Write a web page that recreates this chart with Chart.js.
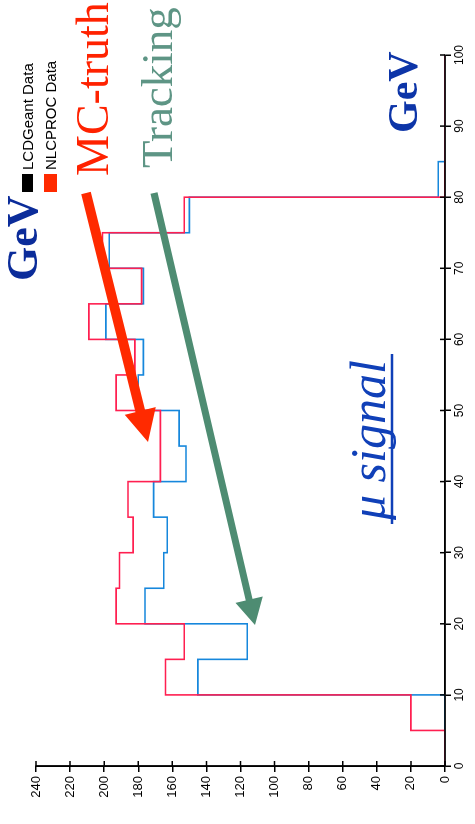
<!DOCTYPE html>
<html>
<head>
<meta charset="utf-8">
<script src="https://cdn.jsdelivr.net/npm/chart.js@4"></script>
<style>
  html, body { margin: 0; padding: 0; background: #fff; width: 475px; height: 824px; overflow: hidden; }
  /* the plot is laid out landscape and turned a quarter turn anticlockwise */
  #stage { position: absolute; left: 0; top: 0; width: 824px; height: 475px;
           transform-origin: 0 0; transform: translate(0, 824px) rotate(-90deg); }
  canvas { display: block; }
</style>
</head>
<body>
<div id="stage"><canvas id="c" width="824" height="475"></canvas></div>
<script>
// 5 GeV bins, lower edges
const binStarts = [0, 5, 10, 15, 20, 25, 30, 35, 40, 45, 50, 55, 60, 65, 70, 75, 80, 85, 90, 95];
const binEnd = 100;

// entries per bin
const lcdGeantCounts = [0, 0, 145, 116, 176, 165, 163, 171, 152, 156, 180, 177, 199, 177, 197, 150, 4, 0, 0, 0];
const nlcprocCounts  = [0, 20, 164, 153, 193, 191, 183, 186, 167, 167, 193, 182, 209, 178, 201, 153, 0, 0, 0, 0];

const seriesLabels = ['LCDGeant Data', 'NLCPROC Data'];
const energyTicks = [0, 10, 20, 30, 40, 50, 60, 70, 80, 90, 100];
const countTicks = [0, 20, 40, 60, 80, 100, 120, 140, 160, 180, 200, 220, 240];

// outline of a histogram: one point per lower bin edge, closed at the last edge
function histPoints(counts) {
  const pts = binStarts.map((x, i) => ({ x: x, y: counts[i] }));
  pts.push({ x: binEnd, y: 0 });
  return pts;
}

function arrow(ctx, x1, y1, x2, y2, shaft, headLen, headW, color) {
  const dx = x2 - x1, dy = y2 - y1, L = Math.hypot(dx, dy);
  const ux = dx / L, uy = dy / L, nx = -uy, ny = ux;
  const bx = x2 - ux * headLen, by = y2 - uy * headLen;
  ctx.save();
  ctx.fillStyle = color;
  ctx.beginPath();
  ctx.moveTo(x1 + nx * shaft / 2, y1 + ny * shaft / 2);
  ctx.lineTo(bx + nx * shaft / 2, by + ny * shaft / 2);
  ctx.lineTo(bx + nx * headW / 2, by + ny * headW / 2);
  ctx.lineTo(x2, y2);
  ctx.lineTo(bx - nx * headW / 2, by - ny * headW / 2);
  ctx.lineTo(bx - nx * shaft / 2, by - ny * shaft / 2);
  ctx.lineTo(x1 - nx * shaft / 2, y1 - ny * shaft / 2);
  ctx.closePath();
  ctx.fill();
  ctx.restore();
}

// axis lines on top of the outlines, crossing tick marks, legend box and hand-written notes
const decorations = {
  id: 'decorations',
  afterDraw(chart) {
    const ctx = chart.ctx;
    const xs = chart.scales.x, ys = chart.scales.y;
    const area = chart.chartArea;
    ctx.save();
    ctx.strokeStyle = '#000';
    ctx.lineWidth = 1.6;
    ctx.beginPath();
    ctx.moveTo(xs.getPixelForValue(0), ys.getPixelForValue(240));
    ctx.lineTo(xs.getPixelForValue(0), ys.getPixelForValue(0));
    ctx.lineTo(xs.getPixelForValue(100), ys.getPixelForValue(0));
    ctx.stroke();
    ctx.lineWidth = 1.5;
    ctx.beginPath();
    energyTicks.forEach(v => { const p = xs.getPixelForValue(v); ctx.moveTo(p, area.bottom); ctx.lineTo(p, area.bottom - 5); });
    countTicks.forEach(v => { const p = ys.getPixelForValue(v); ctx.moveTo(area.left, p); ctx.lineTo(area.left + 5, p); });
    ctx.stroke();

    // legend
    ctx.fillStyle = '#000';
    ctx.fillRect(632, 22, 18, 11);
    ctx.fillStyle = '#ff2a00';
    ctx.fillRect(632, 44, 18, 13);
    ctx.fillStyle = '#000';
    ctx.font = '15px "Liberation Sans", Arial, sans-serif';
    ctx.textBaseline = 'alphabetic';
    ctx.fillText(seriesLabels[0], 654, 33);
    ctx.fillText(seriesLabels[1], 654, 56);

    // notes
    ctx.fillStyle = '#0b2c9a';
    ctx.font = 'bold 44px "Liberation Serif", serif';
    ctx.fillText('GeV', 543, 37);
    ctx.fillStyle = '#ff2200';
    ctx.font = '46px "Liberation Serif", serif';
    ctx.fillText('MC-truth', 648, 108);
    ctx.fillStyle = '#5e9585';
    ctx.font = '45px "Liberation Serif", serif';
    ctx.fillText('Tracking', 656, 172);
    ctx.fillStyle = '#0d35a8';
    ctx.font = 'bold 42px "Liberation Serif", serif';
    ctx.fillText('GeV', 691, 417);
    ctx.fillStyle = '#1040b8';
    ctx.font = 'italic 50px "Liberation Serif", serif';
    ctx.fillText('\u03bc signal', 304, 385);
    ctx.strokeStyle = '#1040b8';
    ctx.lineWidth = 2.5;
    ctx.beginPath();
    ctx.moveTo(300, 392); ctx.lineTo(470, 392);
    ctx.stroke();
    ctx.restore();

    arrow(ctx, 631, 86, 382, 148, 10, 32, 32, '#ff2a00');
    arrow(ctx, 631, 154, 199, 255, 7, 26, 28, '#4e8c72');
  }
};

Chart.defaults.font.family = '"Liberation Sans", Arial, sans-serif';
Chart.defaults.color = '#000';

new Chart(document.getElementById('c'), {
  type: 'line',
  data: {
    datasets: [
      {
        label: seriesLabels[1],
        data: histPoints(nlcprocCounts),
        stepped: 'before',
        borderColor: '#ff1f50',
        borderWidth: 1.6,
        pointRadius: 0,
        fill: false,
        order: 0
      },
      {
        label: seriesLabels[0],
        data: histPoints(lcdGeantCounts),
        stepped: 'before',
        borderColor: '#1687dc',
        borderWidth: 1.6,
        pointRadius: 0,
        fill: false,
        order: 1
      }
    ]
  },
  options: {
    responsive: false,
    animation: false,
    devicePixelRatio: 1,
    layout: { padding: { top: 36, right: 55, left: 0, bottom: 0 } },
    plugins: { legend: { display: false }, tooltip: { enabled: false } },
    scales: {
      x: {
        type: 'linear', min: 0, max: 100, position: 'bottom', z: 1,
        afterBuildTicks: s => { s.ticks = energyTicks.map(v => ({ value: v })); },
        afterFit: s => { s.height = 30; },
        grid: { drawOnChartArea: false, drawTicks: true, tickLength: 6, color: '#000', lineWidth: 1.5 },
        border: { display: true, color: '#000', width: 1.5 },
        ticks: { padding: 1, font: { size: 12 }, color: '#000', maxRotation: 0, autoSkip: false }
      },
      y: {
        type: 'linear', min: 0, max: 240, z: 1,
        afterBuildTicks: s => { s.ticks = countTicks.map(v => ({ value: v })); },
        afterFit: s => { s.width = 58; },
        grid: { drawOnChartArea: false, drawTicks: true, tickLength: 6, color: '#000', lineWidth: 1.5 },
        border: { display: true, color: '#000', width: 1.5 },
        ticks: { padding: 4, font: { size: 13 }, color: '#000', autoSkip: false }
      }
    }
  },
  plugins: [decorations]
});
</script>
</body>
</html>
